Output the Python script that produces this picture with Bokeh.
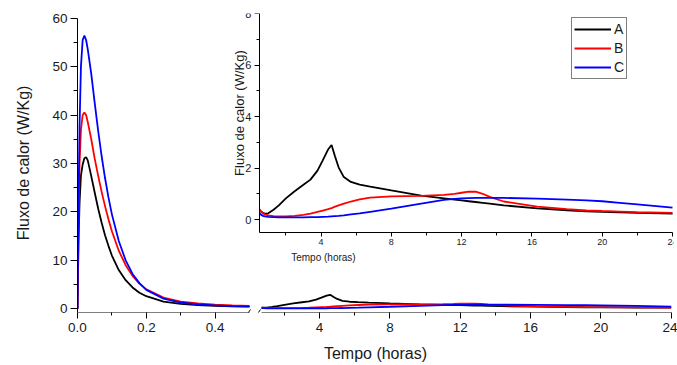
import math
import numpy as np
from bokeh.plotting import figure
from bokeh.models import (Range1d, LinearAxis, FixedTicker, PrintfTickFormatter,
                          Legend, LegendItem, Label, Arrow)
from bokeh.embed import file_html
from bokeh.resources import INLINE

# ---------------- data ----------------
series_names = ["A", "B", "C"]
series_colors = ["#000000", "#ff0000", "#0000ff"]

# first hours (0 - 0.5 h)
t_early = [0.0, 0.003, 0.006, 0.01, 0.015, 0.02, 0.025, 0.03, 0.04, 0.05, 0.06, 0.07,
           0.08, 0.09, 0.10, 0.12, 0.14, 0.16, 0.18, 0.20, 0.25, 0.30, 0.35, 0.40, 0.45, 0.50]
A_early = [0.0, 14.0, 22.0, 27.5, 29.8, 31.1, 31.3, 30.6, 27.4, 24.0, 20.7, 17.8,
           15.2, 13.0, 11.0, 8.0, 5.9, 4.4, 3.3, 2.6, 1.5, 1.0, 0.75, 0.6, 0.5, 0.45]
B_early = [0.0, 18.0, 30.0, 37.0, 40.0, 40.5, 40.0, 38.5, 35.0, 31.0, 27.5, 24.2,
           21.2, 18.5, 16.0, 12.0, 9.0, 6.8, 5.2, 4.0, 2.3, 1.5, 1.1, 0.85, 0.7, 0.6]
C_early = [0.0, 22.0, 38.0, 50.0, 55.5, 56.4, 55.5, 53.5, 48.5, 42.5, 36.8, 31.6,
           27.0, 23.0, 19.5, 14.0, 10.0, 7.2, 5.3, 3.9, 2.1, 1.3, 0.9, 0.7, 0.55, 0.5]

# later hours (0.5 - 24 h)
t_late = [0.5, 0.6, 0.7, 0.8, 1.0, 1.3, 1.6, 2.0, 2.5, 3.0, 3.4, 3.8, 4.1, 4.4, 4.6,
          4.8, 5.0, 5.3, 5.7, 6.2, 6.8, 8.0, 9.7, 11.0, 11.6, 12.0, 12.4, 12.8, 13.2,
          13.6, 14.4, 16.3, 18.0, 19.1, 20.0, 21.0, 22.0, 24.0]
A_late = [0.38, 0.30, 0.26, 0.23, 0.24, 0.38, 0.55, 0.82, 1.10, 1.35, 1.55, 1.90, 2.30,
          2.72, 2.90, 2.45, 2.03, 1.65, 1.46, 1.36, 1.28, 1.13, 0.93, 0.82, 0.77, 0.74,
          0.71, 0.68, 0.65, 0.62, 0.55, 0.43, 0.36, 0.32, 0.30, 0.28, 0.26, 0.23]
B_late = [0.40, 0.30, 0.24, 0.20, 0.16, 0.13, 0.12, 0.12, 0.14, 0.18, 0.23, 0.30, 0.35,
          0.40, 0.44, 0.50, 0.55, 0.62, 0.70, 0.78, 0.85, 0.90, 0.92, 0.96, 1.00, 1.04,
          1.08, 1.08, 1.00, 0.88, 0.70, 0.50, 0.40, 0.35, 0.33, 0.31, 0.29, 0.26]
C_late = [0.25, 0.18, 0.14, 0.12, 0.10, 0.09, 0.08, 0.08, 0.08, 0.08, 0.09, 0.09, 0.10,
          0.11, 0.12, 0.13, 0.14, 0.16, 0.20, 0.24, 0.30, 0.42, 0.62, 0.76, 0.80, 0.82,
          0.83, 0.84, 0.84, 0.84, 0.84, 0.81, 0.77, 0.74, 0.71, 0.65, 0.59, 0.46]

early_ticks = [0.0, 0.2, 0.4]
early_minor = [0.1, 0.3]
late_ticks = [4, 8, 12, 16, 20, 24]
late_minor = [2, 6, 10, 14, 18, 22]
y_ticks = [0, 10, 20, 30, 40, 50, 60]
y_minor = [5, 15, 25, 35, 45, 55]
inset_y_ticks = [0, 2, 4, 6, 8]
inset_y_minor = [1, 3, 5, 7]

early_span = (0.0, 0.5)     # left part of the broken axis
late_span = (0.7, 24.0)     # right part of the broken axis
inset_x_span = (0.5, 24.0)
inset_y_span = (-0.5, 8.0)

x_title = "Tempo (horas)"
y_title = "Fluxo de calor (W/Kg)"

# ---------------- figure ----------------
FONT = "Liberation Sans"
TXT = "#1a1a1a"

X0, X1 = 0.0, 1.7326          # early-time range over the whole frame
R0, R1 = -9.771, 24.131       # late-time range over the whole frame
Y0, Y1 = -0.764, 60.97

p = figure(width=677, height=365, output_backend="svg", toolbar_location=None,
           x_range=Range1d(X0, X1), y_range=Range1d(Y0, Y1),
           min_border_left=77, min_border_right=4, min_border_top=13, min_border_bottom=53)
p.background_fill_color = "white"
p.border_fill_color = "white"
p.outline_line_color = None
p.xgrid.visible = False
p.ygrid.visible = False

p.extra_x_ranges = {"r": Range1d(R0, R1), "ix": Range1d(-9.855, 24.057)}
p.extra_y_ranges = {"iy": Range1d(-3.617, 8.012)}


def to_main(t):
    # position of a late time on the early-time axis scale
    return X0 + (t - R0) / (R1 - R0) * (X1 - X0)


def style_axis(ax, size, major_out, minor_out, standoff):
    ax.axis_line_color = "black"
    ax.axis_line_width = 1
    ax.major_tick_line_color = "black"
    ax.minor_tick_line_color = "black"
    ax.major_tick_in = 0
    ax.major_tick_out = major_out
    ax.minor_tick_in = 0
    ax.minor_tick_out = minor_out
    ax.major_label_text_font = FONT
    ax.major_label_text_font_size = size
    ax.major_label_text_color = TXT
    ax.major_label_standoff = standoff


# main x axis (broken): one axis, ticks of both parts
xa = p.xaxis[0]
late_pos = [to_main(t) for t in late_ticks]
xa.ticker = FixedTicker(ticks=early_ticks + late_pos,
                        minor_ticks=early_minor + [to_main(t) for t in late_minor])
xa.formatter = PrintfTickFormatter(format="%.1f")
xa.major_label_overrides = {pos: str(t) for pos, t in zip(late_pos, late_ticks)}
style_axis(xa, "13.5px", 6, 3, 4)
xa.axis_line_color = None
xa.axis_label = x_title
xa.axis_label_text_font = FONT
xa.axis_label_text_font_size = "16px"
xa.axis_label_text_font_style = "normal"
xa.axis_label_text_color = TXT
xa.axis_label_standoff = 10

# the two pieces of the broken axis line
p.add_layout(Arrow(end=None, x_start=early_span[0], y_start=Y0, x_end=early_span[1], y_end=Y0,
                   line_color="black", line_width=1))
p.add_layout(Arrow(end=None, x_start=late_span[0], y_start=Y0, x_end=late_span[1], y_end=Y0,
                   x_range_name="r", line_color="black", line_width=1))
# break marks
for xs, xe in [(-0.272, 0.069), (0.297, 0.638)]:
    p.add_layout(Arrow(end=None, x_start=xs, y_start=-1.94, x_end=xe, y_end=-0.145,
                       x_range_name="r", line_color="black", line_width=1))

# main y axis
ya = p.yaxis[0]
ya.ticker = FixedTicker(ticks=y_ticks, minor_ticks=y_minor)
ya.bounds = (Y0, 60)
style_axis(ya, "13.5px", 7, 4, 3)
ya.axis_label = y_title
ya.axis_label_text_font = FONT
ya.axis_label_text_font_size = "16px"
ya.axis_label_text_font_style = "normal"
ya.axis_label_text_color = TXT
ya.axis_label_standoff = 17

# inset axes
xi = LinearAxis(x_range_name="ix", y_range_name="iy", fixed_location=inset_y_span[0],
                bounds=inset_x_span,
                ticker=FixedTicker(ticks=late_ticks, minor_ticks=late_minor),
                formatter=PrintfTickFormatter(format="%d"))
style_axis(xi, "9px", 4, 3, 3)
p.add_layout(xi, "below")

yi = LinearAxis(x_range_name="ix", y_range_name="iy", fixed_location=inset_x_span[0],
                bounds=inset_y_span,
                ticker=FixedTicker(ticks=inset_y_ticks, minor_ticks=inset_y_minor),
                formatter=PrintfTickFormatter(format="%d"))
style_axis(yi, "11px", 5, 3, 3)
p.add_layout(yi, "left")

# ---------------- curves ----------------
early = [A_early, B_early, C_early]
late = [A_late, B_late, C_late]
tl = np.array(t_late)
mask = tl >= late_span[0]
legend_items = []
for name, col, ye, yl in zip(series_names, series_colors, early, late):
    yl = np.array(yl)
    p.line(t_early, ye, line_color=col, line_width=1.8)
    p.line(tl[mask], yl[mask], line_color=col, line_width=1.8, x_range_name="r")
    r = p.line(tl, yl, line_color=col, line_width=1.8, x_range_name="ix", y_range_name="iy")
    legend_items.append(LegendItem(label=name, renderers=[r]))

# inset titles
p.add_layout(Label(x=4.14, y=-1.478, x_range_name="ix", y_range_name="iy", text=x_title,
                   text_font=FONT, text_font_size="10px", text_color=TXT,
                   text_align="center", text_baseline="middle"))
p.add_layout(Label(x=-0.64, y=4.14, x_range_name="ix", y_range_name="iy", text=y_title,
                   text_font=FONT, text_font_size="13px", text_color=TXT, angle=math.pi / 2,
                   text_align="center", text_baseline="middle"))

legend = Legend(items=legend_items, location=(494, 233), border_line_color="black",
                border_line_width=1, background_fill_color="white", background_fill_alpha=1,
                padding=2, spacing=1, margin=0, glyph_width=37, glyph_height=18,
                label_height=18, label_width=10, label_standoff=3, label_text_font=FONT,
                label_text_font_size="14px", label_text_color=TXT)
p.add_layout(legend)

open("out.html", "w").write(file_html(p, INLINE))
